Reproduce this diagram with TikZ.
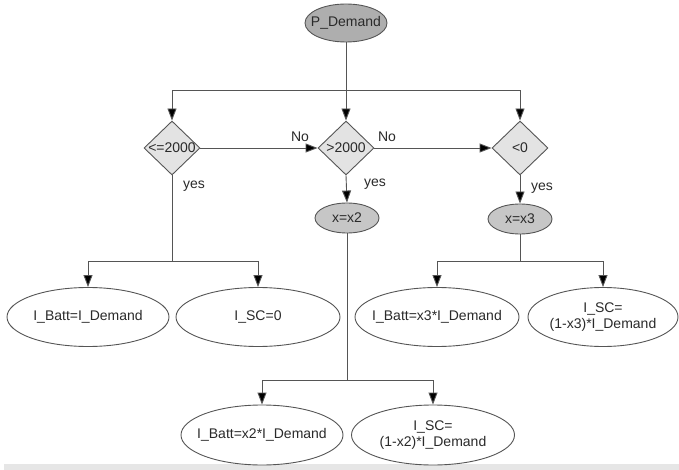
\documentclass[tikz,border=0pt]{standalone}
\usepackage{fontspec}
\setmainfont{Liberation Sans}
\usetikzlibrary{shapes.geometric,arrows.meta}
\definecolor{linec}{HTML}{555555}
\definecolor{textc}{HTML}{2A2A2A}
\definecolor{darkfill}{HTML}{AEAEAE}
\definecolor{midfill}{HTML}{C6C6C6}
\definecolor{diafill}{HTML}{E3E3E3}
\tikzset{
  every node/.style={font=\fontsize{14}{16}\selectfont, text=textc},
  ell/.style={ellipse, draw=linec, line width=0.9pt, inner sep=0pt, align=center},
  dia/.style={diamond, draw=linec, line width=0.9pt, fill=diafill, minimum width=56pt, minimum height=54pt, inner sep=0pt},
  conn/.style={draw=linec, line width=0.9pt},
  arr/.style={conn, -{Triangle[length=12pt,width=9pt,fill=black]}},
  lbl/.style={inner sep=0pt},
  txt/.style={label={[align=center]center:{#1}}}
}
\begin{document}
\begin{tikzpicture}[x=1pt,y=-1pt]
\useasboundingbox (0,0) rectangle (679,470);
\fill[fill={rgb,255:red,230;green,230;blue,230}] (4,464) rectangle (679,470);

\node[ell, fill=darkfill, minimum width=82pt, minimum height=38pt, txt={P\_Demand}] (pd) at (346,23) {};

\node[dia, txt={<=2000}] (d1) at (172,148) {};
\node[dia, txt={>2000}] (d2) at (346,148) {};
\node[dia, txt={<0}] (d3) at (520,148) {};

\node[ell, fill=midfill, minimum width=64pt, minimum height=30pt, txt={x=x2}] (x2) at (347,218) {};
\node[ell, fill=midfill, minimum width=64pt, minimum height=30pt, txt={x=x3}] (x3) at (520,219) {};

\node[ell, fill=white, minimum width=162pt, minimum height=59pt, txt={I\_Batt=I\_Demand}] (b1) at (88,317) {};
\node[ell, fill=white, minimum width=164pt, minimum height=59pt, txt={I\_SC=0}] (b2) at (258,317) {};
\node[ell, fill=white, minimum width=164pt, minimum height=59pt, txt={I\_Batt=x3*I\_Demand}] (b3) at (437,317) {};
\node[ell, fill=white, minimum width=150pt, minimum height=59pt, txt={I\_SC=\\(1-x3)*I\_Demand}] (b4) at (603,317) {};
\node[ell, fill=white, minimum width=162pt, minimum height=60pt, txt={I\_Batt=x2*I\_Demand}] (b5) at (262,435) {};
\node[ell, fill=white, minimum width=163pt, minimum height=60pt, txt={I\_SC=\\(1-x2)*I\_Demand}] (b6) at (433,435) {};

\coordinate (j0) at (346,90);
\coordinate (j1) at (172,261);
\coordinate (j2) at (347,380);
\coordinate (j3) at (520,261);

\draw[conn] (pd.south) -- (j0);
\draw[arr] (j0) -- (d2.north);
\draw[arr] (j0) -| (d1.north);
\draw[arr] (j0) -| (d3.north);

\draw[arr] (d1.east) -- (d2.west);
\draw[arr] (d2.east) -- (d3.west);
\draw[arr] (d2.south) -- (x2.north);
\draw[arr] (d3.south) -- (x3.north);

\draw[conn] (d1.south) -- (j1);
\draw[arr] (j1) -| (b1.north);
\draw[arr] (j1) -| (b2.north);

\draw[conn] (x3.south) -- (j3);
\draw[arr] (j3) -| (b3.north);
\draw[arr] (j3) -| (b4.north);

\draw[conn] (x2.south) -- (j2);
\draw[arr] (j2) -| (b5.north);
\draw[arr] (j2) -| (b6.north);

\node[lbl] (no1) at (300,137) {No};
\node[lbl] (no2) at (387,137) {No};
\node[lbl] (yes1) at (194,186) {yes};
\node[lbl] (yes2) at (375,184) {yes};
\node[lbl] (yes3) at (542,188) {yes};
\end{tikzpicture}
\end{document}
